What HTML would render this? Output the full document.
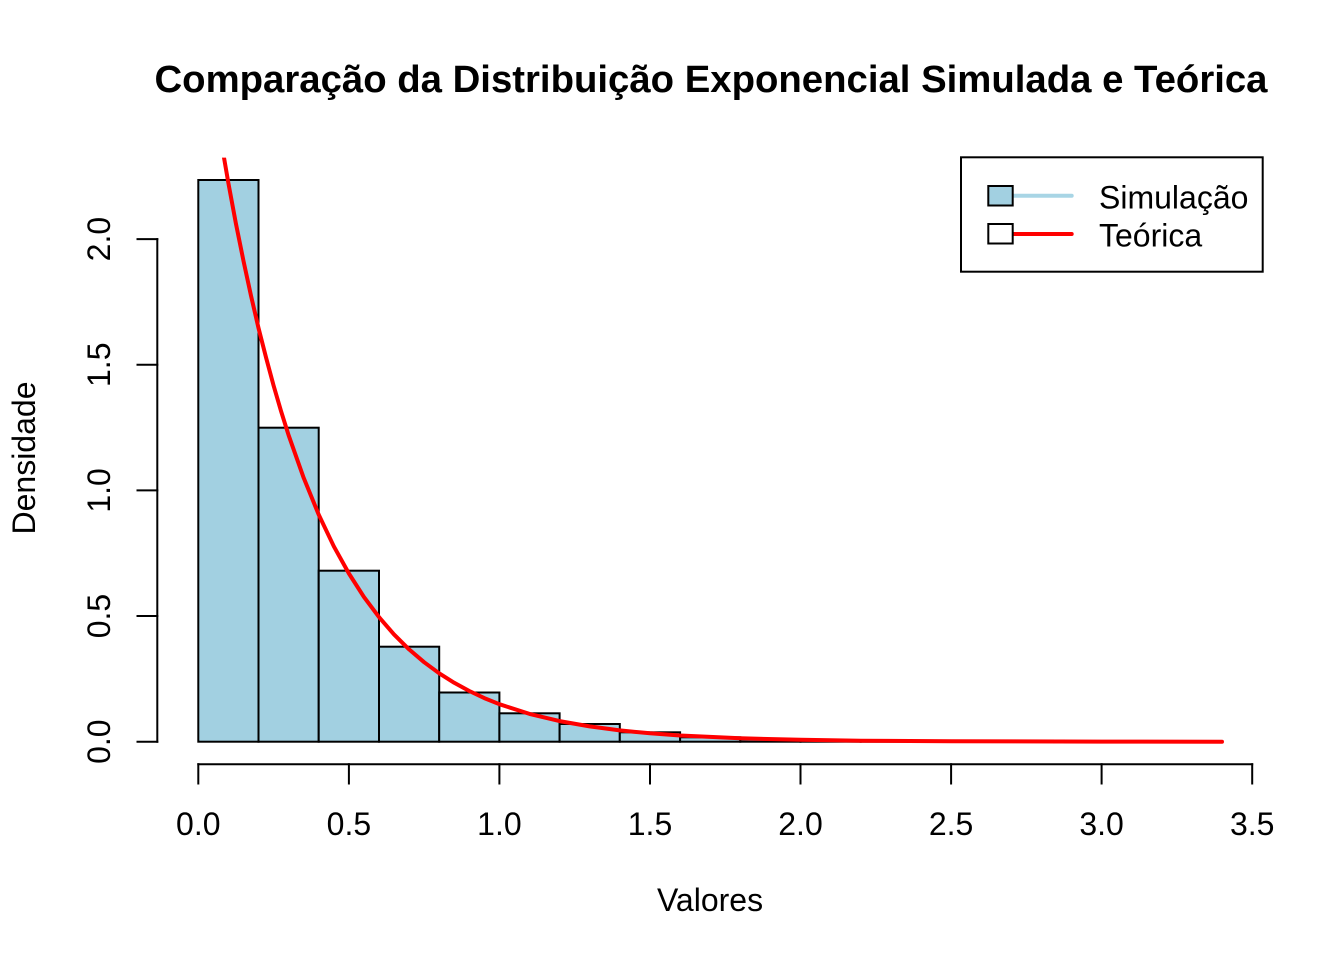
<!DOCTYPE html>
<html>
<head>
<meta charset="utf-8">
<style>
html,body{margin:0;padding:0;background:#fff;}
svg{display:block;}
text{font-family:"Liberation Sans",Arial,Helvetica,sans-serif;fill:#000;}
</style>
</head>
<body>
<svg width="1344" height="960" viewBox="0 0 1344 960" xmlns="http://www.w3.org/2000/svg">
<defs>
<clipPath id="plot"><rect x="157.3" y="157.6" width="1105.8" height="606.6"/></clipPath>
</defs>
<rect x="0" y="0" width="1344" height="960" fill="#fff"/>

<!-- Title -->
<text x="711" y="92" font-size="38.4" font-weight="bold" text-anchor="middle" textLength="1113" lengthAdjust="spacingAndGlyphs">Comparação da Distribuição Exponencial Simulada e Teórica</text>

<!-- Histogram bars -->
<g fill="#A2D0E1" stroke="#000" stroke-width="2">
<rect x="198.3" y="180" width="60.2" height="561.7"/>
<rect x="258.5" y="427.7" width="60.2" height="314"/>
<rect x="318.7" y="570.7" width="60.3" height="171"/>
<rect x="379.0" y="646.7" width="60.2" height="95"/>
<rect x="439.2" y="692.5" width="60.2" height="49.2"/>
<rect x="499.4" y="713.3" width="60.2" height="28.4"/>
<rect x="559.6" y="724" width="60.2" height="17.7"/>
<rect x="619.8" y="732.3" width="60.3" height="9.4"/>
<rect x="680.1" y="737.3" width="60.2" height="4.4"/>
<rect x="740.3" y="739.5" width="60.2" height="2.2"/>
<rect x="800.5" y="740.6" width="60.2" height="1.1"/>
<rect x="860.7" y="741.2" width="60.2" height="0.5"/>
<rect x="920.9" y="741.4" width="60.2" height="0.3"/>
<rect x="981.1" y="741.5" width="60.3" height="0.2"/>
<rect x="1041.4" y="741.6" width="60.2" height="0.1"/>
<rect x="1101.6" y="741.6" width="60.2" height="0.1"/>
<rect x="1161.8" y="741.6" width="60.2" height="0.1"/>
</g>

<!-- Theoretical curve -->
<g clip-path="url(#plot)">
<polyline fill="none" stroke="#FF0000" stroke-width="4" stroke-linejoin="round" stroke-linecap="round"
points="198.3,-12.2 205.8,42.3 213.4,92.8 220.9,139.7 228.4,183.2 235.9,223.5 243.5,261.0 251.0,295.7 258.5,328.0 266.1,357.8 273.6,385.6 281.1,411.3 288.6,435.2 303.7,477.9 318.7,514.6 333.8,546.3 348.9,573.5 363.9,596.9 379.0,617.1 394.0,634.4 409.1,649.4 424.1,662.2 439.2,673.3 454.2,682.8 469.3,691.0 484.3,698.1 499.4,704.2 529.5,713.9 559.6,721.1 589.7,726.4 619.8,730.4 650.0,733.3 680.1,735.5 740.3,738.3 800.5,739.8 860.7,740.7 951.1,741.3 1101.6,741.6 1222.0,741.7"/>
</g>

<!-- Y axis -->
<g stroke="#000" stroke-width="2" fill="none" stroke-linecap="square">
<line x1="157.3" y1="239.1" x2="157.3" y2="741.7"/>
<line x1="137.5" y1="741.7" x2="157.3" y2="741.7"/>
<line x1="137.5" y1="616.05" x2="157.3" y2="616.05"/>
<line x1="137.5" y1="490.4" x2="157.3" y2="490.4"/>
<line x1="137.5" y1="364.75" x2="157.3" y2="364.75"/>
<line x1="137.5" y1="239.1" x2="157.3" y2="239.1"/>
</g>
<g font-size="32" text-anchor="middle">
<text transform="translate(110,741.7) rotate(-90)">0.0</text>
<text transform="translate(110,616.05) rotate(-90)">0.5</text>
<text transform="translate(110,490.4) rotate(-90)">1.0</text>
<text transform="translate(110,364.75) rotate(-90)">1.5</text>
<text transform="translate(110,239.1) rotate(-90)">2.0</text>
</g>

<!-- X axis -->
<g stroke="#000" stroke-width="2" fill="none" stroke-linecap="square">
<line x1="198.3" y1="764.2" x2="1252.2" y2="764.2"/>
<line x1="198.3" y1="764.2" x2="198.3" y2="783.5"/>
<line x1="348.9" y1="764.2" x2="348.9" y2="783.5"/>
<line x1="499.4" y1="764.2" x2="499.4" y2="783.5"/>
<line x1="650.0" y1="764.2" x2="650.0" y2="783.5"/>
<line x1="800.5" y1="764.2" x2="800.5" y2="783.5"/>
<line x1="951.1" y1="764.2" x2="951.1" y2="783.5"/>
<line x1="1101.6" y1="764.2" x2="1101.6" y2="783.5"/>
<line x1="1252.2" y1="764.2" x2="1252.2" y2="783.5"/>
</g>
<g font-size="32" text-anchor="middle">
<text x="198.3" y="835">0.0</text>
<text x="348.9" y="835">0.5</text>
<text x="499.4" y="835">1.0</text>
<text x="650.0" y="835">1.5</text>
<text x="800.5" y="835">2.0</text>
<text x="951.1" y="835">2.5</text>
<text x="1101.6" y="835">3.0</text>
<text x="1252.2" y="835">3.5</text>
</g>

<!-- Axis labels -->
<text x="710" y="911" font-size="32" text-anchor="middle">Valores</text>
<text transform="translate(35,458) rotate(-90)" font-size="32" text-anchor="middle">Densidade</text>

<!-- Legend -->
<rect x="961" y="157.3" width="301.7" height="114.4" fill="#fff" stroke="#000" stroke-width="2"/>
<line x1="1012.7" y1="195.7" x2="1071.7" y2="195.7" stroke="#A8D5E5" stroke-width="4" stroke-linecap="round"/>
<line x1="1012.7" y1="234" x2="1071.7" y2="234" stroke="#FF0000" stroke-width="4" stroke-linecap="round"/>
<rect x="988.3" y="186" width="24.4" height="19.5" fill="#A2D0E1" stroke="#000" stroke-width="2"/>
<rect x="988.3" y="224" width="24.4" height="19.5" fill="#fff" stroke="#000" stroke-width="2"/>
<text x="1099" y="208.5" font-size="32">Simulação</text>
<text x="1099" y="246.5" font-size="32">Teórica</text>
</svg>
</body>
</html>
